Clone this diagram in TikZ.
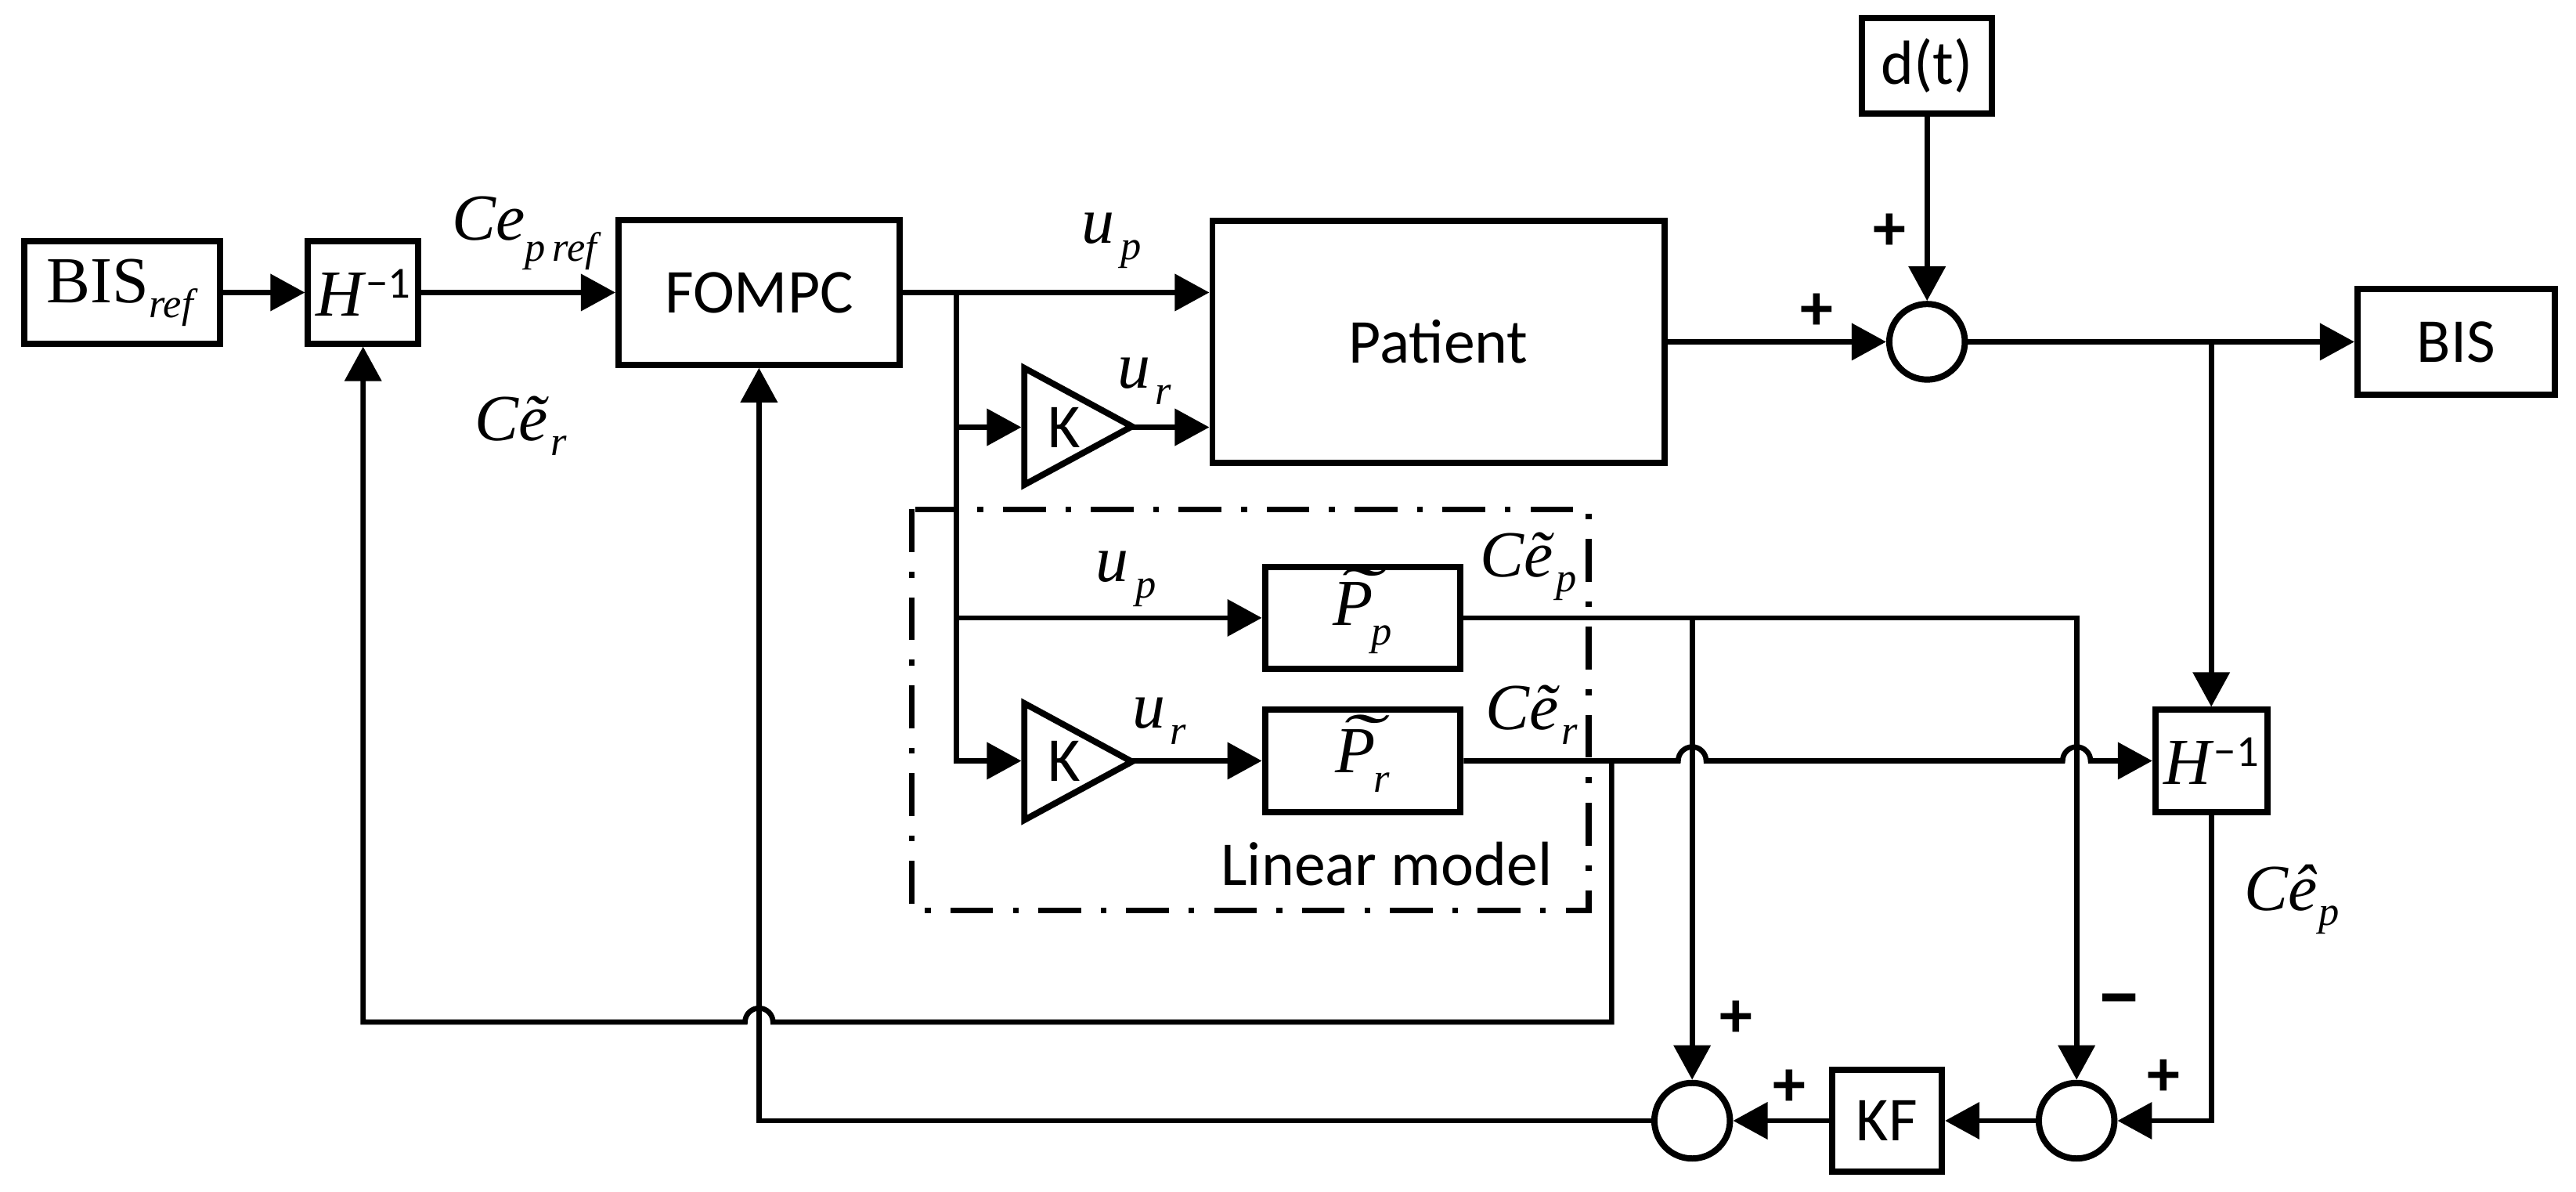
\documentclass[tikz,border=0pt]{standalone}
\usepackage{fontspec}
\usepackage{graphicx}
\setmainfont{Liberation Serif}
\newfontfamily\sansf{Carlito}
\usetikzlibrary{arrows.meta,calc}
\newcommand\lsub[2][9pt]{\raisebox{-#1}{\fontsize{25}{25}\selectfont\textit{#2}}}
\newcommand\tildeP{\ooalign{\textit{P}\cr\hidewidth\kern0.25em\raisebox{0.2em}{\scalebox{2}[1]{\textit{\char"02DC}}}\hidewidth\cr}}
\newcommand\Hinv{\textit{H}\raisebox{11pt}{\sansf\fontsize{27}{27}\selectfont −1}}
\begin{document}
\begin{tikzpicture}[x=1pt,y=-1pt,
  conn/.style={line width=3.2pt, line join=miter},
  arr/.style={conn, -{Triangle[length=21pt,width=22pt]}},
  blk/.style={draw, line width=3.8pt, inner sep=0pt},
  sumc/.style={draw, circle, line width=3.8pt, minimum size=46pt, inner sep=0pt},
  stxt/.style={font=\sansf\fontsize{38}{40}\selectfont},
  mtxt/.style={font=\fontsize{40}{42}\selectfont},
  lbl/.style={mtxt, anchor=base west, inner sep=0pt},
  sign/.style={font=\sansf\bfseries\fontsize{40}{40}\selectfont, inner sep=0pt},
  dashdot/.style={line width=3.5pt, dash pattern=on 26pt off 12pt on 3.5pt off 12pt}
]
\useasboundingbox (0,0) rectangle (1568,725);

% blocks
\node[blk, mtxt, minimum width=119pt, minimum height=62pt] (bisref) at (74.5,178) {BIS\lsub[9pt]{ref}};
\node[blk, mtxt, minimum width=67pt, minimum height=62pt] (hL) at (221,178) {\Hinv};
\node[blk, stxt, minimum width=171pt, minimum height=88pt] (fompc) at (462,178) {FOMPC};
\node[blk, stxt, minimum width=275pt, minimum height=147pt] (patient) at (875.5,208) {Patient};
\node[blk, mtxt, minimum width=119pt, minimum height=62pt] (Pp) at (829.5,376) {\tildeP\kern-1pt\lsub[12pt]{p}};
\node[blk, mtxt, minimum width=119pt, minimum height=62pt] (Pr) at (829.5,463) {\tildeP\kern-1pt\lsub[12pt]{r}};
\node[blk, stxt, minimum width=79pt, minimum height=58pt] (dt) at (1173,40) {d(t)};
\node[sumc] (sumT) at (1173,208) {};
\node[blk, stxt, minimum width=120pt, minimum height=64pt] (bis) at (1495,208) {BIS};
\node[blk, mtxt, minimum width=68pt, minimum height=62pt] (hR) at (1346,463) {\Hinv};
\node[sumc] (sumR) at (1264,682) {};
\node[blk, stxt, minimum width=67pt, minimum height=62pt] (kf) at (1148.5,682) {KF};
\node[sumc] (sumL) at (1030,682) {};

% gains
\draw[line width=3.8pt, line join=miter] (623.5,224) -- (623.5,295) -- (689,259.5) -- cycle;
\draw[line width=3.8pt, line join=miter] (623.5,428) -- (623.5,499) -- (689,463.5) -- cycle;
\node[stxt] (Kup) at (648,260) {K};
\node[stxt] (Klo) at (648,463) {K};
\coordinate (Kupi) at (621.7,260);
\coordinate (Kupo) at (689,260);
\coordinate (Kloi) at (621.7,463);
\coordinate (Kloo) at (689,463);

% linear model frame
\draw[dashdot] (555,310) rectangle (967,554);
\node[stxt, anchor=base west, inner sep=0pt] (lin) at (743,539) {Linear model};

% forward path
\draw[arr] (bisref.east) -- (hL.west);
\draw[arr] (hL.east) -- (fompc.west);
\draw[arr] (fompc.east) -- (fompc.east -| patient.west);
\coordinate (b1) at (582,178);
\draw[arr] (b1) |- (Kloi);
\draw[arr] (b1 |- Kupi) -- (Kupi);
\draw[arr] (b1 |- Pp.west) -- (Pp.west);
\draw[arr] (Kupo) -- (Kupo -| patient.west);
\draw[arr] (Kloo) -- (Pr.west);

% model outputs
\draw[arr] (Pp.east) -| (sumR.north);
\draw[arr] (Pp.east -| sumL.north) -- (sumL.north);
\draw[arr] (Pr.east) -- ($(sumL.north |- Pr.east)+(-8.5,0)$) arc[start angle=180,end angle=360,radius=8.5]
  -- ($(sumR.north |- Pr.east)+(-8.5,0)$) arc[start angle=180,end angle=360,radius=8.5] -- (hR.west);
\coordinate (b2) at (981,463);
\coordinate (c1) at (981,622);
\draw[arr] (b2) -- (c1) -- ($(fompc.south |- c1)+(8.5,0)$) arc[start angle=0,end angle=-180,radius=8.5]
  -- (hL.south |- c1) -- (hL.south);

% plant output and feedback
\draw[arr] (patient.east) -- (sumT.west);
\draw[arr] (dt.south) -- (sumT.north);
\draw[arr] (sumT.east) -- (bis.west);
\draw[arr] (sumT.east -| hR.north) -- (hR.north);
\draw[arr] (hR.south) |- (sumR.east);
\draw[arr] (sumR.west) -- (kf.east);
\draw[arr] (kf.west) -- (sumL.east);
\draw[arr] (sumL.west) -| (fompc.south);

% labels
\node[lbl] (lCeref) at (275,146) {\textit{Ce}\lsub[13pt]{p\,ref}};
\node[lbl] (lCrL) at (289,268) {\textit{Cẽ}\kern1pt\lsub{r}};
\node[lbl] (lup1) at (658,148) {\textit{u}\kern4pt\lsub[10pt]{p}};
\node[lbl] (lur1) at (680,236) {\textit{u}\kern3pt\lsub[10pt]{r}};
\node[lbl] (lup2) at (667,354) {\textit{u}\kern4pt\lsub[10pt]{p}};
\node[lbl] (lur2) at (689,443) {\textit{u}\kern3pt\lsub[10pt]{r}};
\node[lbl] (lCp) at (901,351) {\textit{Cẽ}\kern1pt\lsub{p}};
\node[lbl] (lCr) at (904,444) {\textit{Cẽ}\kern1pt\lsub{r}};
\node[lbl] (lCh) at (1366,554) {\textit{Cê}\kern1pt\lsub{p}};

% signs
\node[sign] (s1) at (1150,141) {+};
\node[sign] (s2) at (1106,190) {+};
\node[sign] (s3) at (1057,620) {+};
\node[sign] (s4) at (1089,662) {+};
\node[sign, font=\sansf\bfseries\fontsize{52}{52}\selectfont] (s5) at (1290,614) {−};
\node[sign] (s6) at (1317,656) {+};
\end{tikzpicture}
\end{document}
